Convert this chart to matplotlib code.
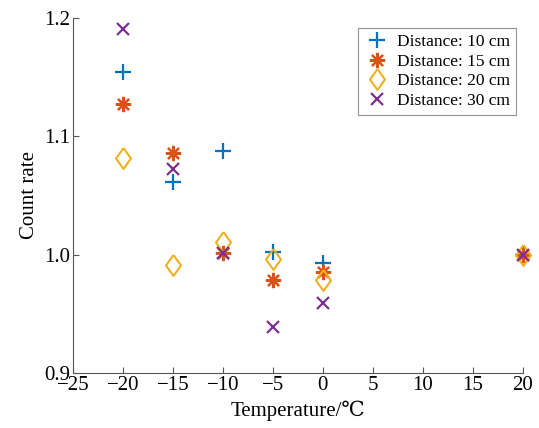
import matplotlib
matplotlib.use("Agg")
import matplotlib.pyplot as plt

temps = [-20, -15, -10, -5, 0, 20]
d10 = [1.154, 1.061, 1.088, 1.002, 0.993, 1.000]
d15 = [1.127, 1.086, 1.001, 0.979, 0.985, 1.000]
d20 = [1.082, 0.991, 1.011, 0.996, 0.979, 1.000]
d30 = [1.191, 1.072, 1.001, 0.939, 0.959, 1.000]
labels = ["Distance: 10 cm", "Distance: 15 cm", "Distance: 20 cm", "Distance: 30 cm"]
xticks = [-25, -20, -15, -10, -5, 0, 5, 10, 15, 20]
yticks = [0.9, 1.0, 1.1, 1.2]

plt.rcParams['font.family'] = ['Liberation Serif', 'DejaVu Serif', 'Noto Sans CJK SC']

fig = plt.figure(figsize=(5.39, 4.28), dpi=100)
ax = fig.add_axes([0.1354, 0.1285, 0.8346, 0.8295])

diamond = [(0, 1), (0.72, 0), (0, -1), (-0.72, 0), (0, 1)]
ax.plot(temps, d10, linestyle='none', marker='+', markersize=12, markeredgewidth=1.6,
        color='#0072BD', label=labels[0], clip_on=False)
ax.plot(temps, d15, linestyle='none', marker=(8, 2, 0), markersize=11, markeredgewidth=1.6,
        color='#D95319', label=labels[1], clip_on=False)
ax.plot(temps, d20, linestyle='none', marker=diamond, markersize=15, markeredgewidth=1.5,
        markerfacecolor='none', color='#EDB120', label=labels[2], clip_on=False)
ax.plot(temps, d30, linestyle='none', marker='x', markersize=9, markeredgewidth=1.6,
        color='#7E2F8E', label=labels[3], clip_on=False)

ax.set_xlim(-25, 20)
ax.set_ylim(0.9, 1.2)
ax.set_xticks(xticks)
ax.set_yticks(yticks)
ax.set_yticklabels([f"{v:.1f}" for v in yticks])
ax.tick_params(direction='in', labelsize=15, length=4, color='#555555', pad=2)
for s in ['top', 'right']:
    ax.spines[s].set_visible(False)
for s in ['left', 'bottom']:
    ax.spines[s].set_color('#555555')
    ax.spines[s].set_linewidth(0.8)

ax.set_xlabel("Temperature/℃", fontsize=15, labelpad=4)
ax.set_ylabel("Count rate", fontsize=15, labelpad=4)

leg = ax.legend(loc='upper right', bbox_to_anchor=(0.985, 0.972), fontsize=12.5, fancybox=False,
                frameon=True, edgecolor='#777777', borderpad=0.35, handletextpad=0.4,
                handlelength=1.5, labelspacing=0.2, borderaxespad=0)
leg.get_frame().set_linewidth(0.8)

fig.savefig("out.png", dpi=100)
